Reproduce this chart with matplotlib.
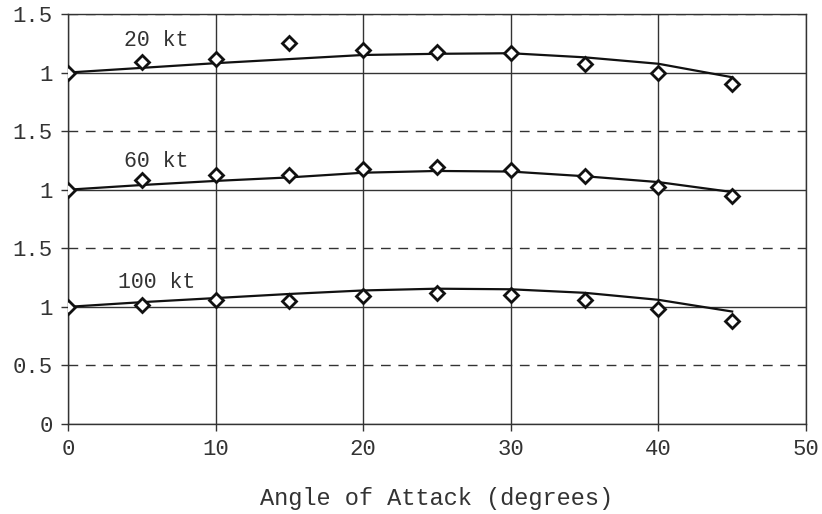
import matplotlib
matplotlib.use("Agg")
import matplotlib.pyplot as plt

# ---- data ----
angles = [0, 5, 10, 15, 20, 25, 30, 35, 40, 45]
speed_labels = ["20 kt", "60 kt", "100 kt"]
offsets = [2, 1, 0]  # vertical stacking of the three panels

meas_20 = [1.00, 1.09, 1.115, 1.25, 1.19, 1.175, 1.165, 1.07, 0.995, 0.90]
meas_60 = [1.00, 1.085, 1.125, 1.125, 1.175, 1.19, 1.17, 1.12, 1.02, 0.95]
meas_100 = [1.00, 1.02, 1.055, 1.05, 1.095, 1.12, 1.10, 1.055, 0.98, 0.88]

fit_20 = [1.00, 1.04, 1.08, 1.115, 1.15, 1.16, 1.165, 1.13, 1.075, 0.96]
fit_60 = [1.00, 1.04, 1.075, 1.105, 1.145, 1.16, 1.155, 1.115, 1.065, 0.98]
fit_100 = [1.00, 1.04, 1.075, 1.11, 1.14, 1.155, 1.15, 1.12, 1.06, 0.96]

ytick_vals = [0, 0.5, 1, 1.5, 2, 2.5, 3, 3.5]
ytick_labels = ["0", "0.5", "1", "1.5", "1", "1.5", "1", "1.5"]
xtick_vals = [0, 10, 20, 30, 40, 50]

label_pos_x = 6.0
label_pos_y = [1.27, 1.245, 1.205]  # relative to each panel's offset

meas = [meas_20, meas_60, meas_100]
fits = [fit_20, fit_60, fit_100]

FONT = ["Liberation Mono", "DejaVu Sans Mono"]
TXT = "#333333"
LINE = "#111111"

fig = plt.figure(figsize=(8.22, 5.14), dpi=100)
ax = fig.add_axes([0.0827, 0.1751, 0.9805 - 0.0827, 0.9728 - 0.1751])

for m, f, off, lab, ly in zip(meas, fits, offsets, speed_labels, label_pos_y):
    ax.plot(angles, [v + off for v in f], color=LINE, lw=1.6, zorder=3)
    ax.plot(angles, [v + off for v in m], linestyle="none", marker="D",
            markersize=7, markerfacecolor="white", markeredgecolor=LINE,
            markeredgewidth=2.0, zorder=4)
    ax.text(label_pos_x, off + ly, lab, fontfamily=FONT, fontsize=15.5,
            color=TXT, ha="center", va="center", zorder=5)

ax.set_xlim(0, 50)
ax.set_ylim(0, 3.5)
ax.set_xticks(xtick_vals)
ax.set_xticklabels([str(v) for v in xtick_vals])
ax.set_yticks(ytick_vals)
ax.set_yticklabels(ytick_labels)

ax.grid(True, axis="both", color="#333333", lw=1.0, zorder=1)
for v, gl in zip(ytick_vals, ax.yaxis.get_gridlines()):
    if (v % 1) != 0:
        gl.set_linestyle((0, (7, 5.5)))
ax.set_axisbelow(True)

for s in ax.spines.values():
    s.set_color("#333333")
    s.set_linewidth(1.0)

ax.tick_params(axis="both", direction="out", length=5, width=1.0,
               color="#333333", labelcolor=TXT, labelsize=16)
ax.tick_params(axis="y", pad=6)
ax.tick_params(axis="x", pad=6)
for t in ax.get_xticklabels() + ax.get_yticklabels():
    t.set_fontfamily(FONT)

ax.set_xlabel("Angle of Attack (degrees)", fontfamily=FONT, fontsize=17,
              color=TXT, labelpad=19)

fig.savefig("out.png", dpi=100)
